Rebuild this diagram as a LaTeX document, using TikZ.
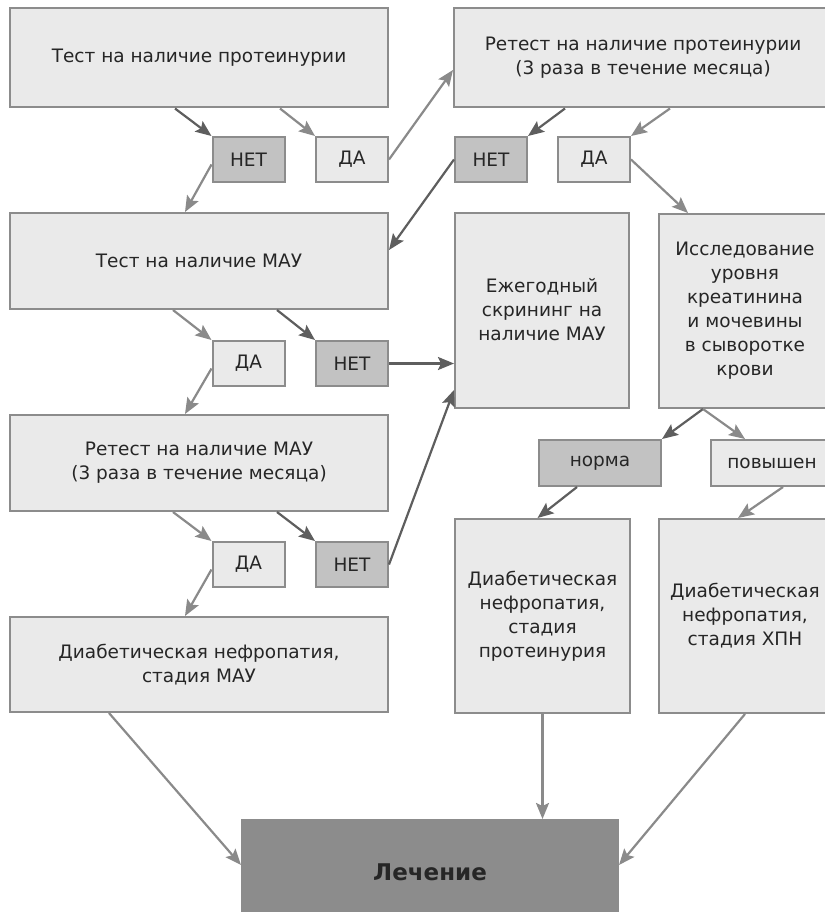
\documentclass[tikz,border=0pt]{standalone}
\usepackage{fontspec}
\setmainfont{DejaVu Sans}
\usetikzlibrary{arrows.meta}
\definecolor{boxfill}{HTML}{EAEAEA}
\definecolor{boxline}{HTML}{8C8C8C}
\definecolor{darkfill}{HTML}{C2C2C2}
\definecolor{treatfill}{HTML}{8C8C8C}
\definecolor{arrowgray}{HTML}{8A8A8A}
\definecolor{arrowdark}{HTML}{5E5E5E}
\definecolor{textgray}{HTML}{262626}
\tikzset{
  box/.style={draw=boxline, fill=boxfill, line width=2pt, text=textgray,
    align=center, font=\fontsize{18.5}{24}\selectfont, inner sep=2pt},
  yesbox/.style={box, minimum width=72pt, minimum height=45pt},
  nobox/.style={yesbox, fill=darkfill},
  arrow/.style={draw=arrowgray, line width=2.2pt, -{Stealth[length=16pt,width=13pt,inset=3pt]}},
  darrow/.style={arrow, draw=arrowdark}
}

\begin{document}
\begin{tikzpicture}[x=1pt,y=-1pt]
    \useasboundingbox (0,0) rectangle (824,912);

    % Protein tests
    \node[box, minimum width=378pt, minimum height=99pt] (testprot) at (199,58) {Тест на наличие протеинурии};
    \node[box, minimum width=378pt, minimum height=99pt] (retestprot) at (643,58) {Ретест на наличие протеинурии\\(3 раза в течение месяца)};
    \node[nobox] (net1) at (248.5,159.5) {НЕТ};
    \node[yesbox] (da1) at (352,159.5) {ДА};
    \node[nobox] (net2) at (491,159.5) {НЕТ};
    \node[yesbox] (da2) at (594,159.5) {ДА};

    % MAU tests
    \node[box, minimum width=378pt, minimum height=96pt] (testmau) at (199,261) {Тест на наличие МАУ};
    \node[yesbox] (da3) at (248.5,363.5) {ДА};
    \node[nobox] (net3) at (352,363.5) {НЕТ};
    \node[box, minimum width=378pt, minimum height=96pt] (retestmau) at (199,463) {Ретест на наличие МАУ\\(3 раза в течение месяца)};
    \node[yesbox] (da4) at (248.5,564.5) {ДА};
    \node[nobox] (net4) at (352,564.5) {НЕТ};
    \node[box, minimum width=378pt, minimum height=95pt] (stagemau) at (199,664.5) {Диабетическая нефропатия,\\стадия МАУ};

    % Right column
    \node[box, minimum width=174pt, minimum height=195pt] (screening) at (542,310) {Ежегодный\\скрининг на\\наличие МАУ};
    \node[box, minimum width=172pt, minimum height=194pt] (creat) at (745,311) {Исследование\\уровня\\креатинина\\и мочевины\\в сыворотке\\крови};
    \node[nobox, minimum width=122pt, minimum height=46pt] (norma) at (600,463) {норма};
    \node[yesbox, minimum width=122pt, minimum height=46pt] (povysh) at (772,463) {повышен};
    \node[box, minimum width=175pt, minimum height=194pt] (stageprot) at (542.5,616) {Диабетическая\\нефропатия,\\стадия\\протеинурия};
    \node[box, minimum width=172pt, minimum height=194pt] (stagechpn) at (745,616) {Диабетическая\\нефропатия,\\стадия ХПН};

    % Treatment
    \node[box, fill=treatfill, minimum width=376pt, minimum height=104pt,
      font=\fontsize{23}{28}\selectfont\bfseries, text=black!85] (treat) at (430,872) {Лечение};

    % Arrows, protein
    \draw[darrow] ([xshift=-24pt]testprot.south) -- (net1.north west);
    \draw[arrow] ([xshift=81pt]testprot.south) -- (da1.north west);
    \draw[arrow] ([yshift=-5pt]net1.west) -- ([xshift=-14pt]testmau.north);
    \draw[arrow] (da1.east) -- ([yshift=-12pt]retestprot.west);
    \draw[darrow] ([xshift=-78pt]retestprot.south) -- (net2.north east);
    \draw[arrow] ([xshift=27pt]retestprot.south) -- (da2.north east);
    \draw[darrow] (net2.west) -- ([yshift=11pt]testmau.east);
    \draw[arrow] (da2.east) -- ([xshift=-57pt]creat.north);

    % Arrows, MAU
    \draw[arrow] ([xshift=-26pt]testmau.south) -- (da3.north west);
    \draw[darrow] ([xshift=78pt]testmau.south) -- (net3.north west);
    \draw[darrow] (net3.east) -- (net3.east -| screening.west);
    \draw[arrow] ([yshift=-5pt]da3.west) -- ([xshift=-14pt]retestmau.north);
    \draw[arrow] ([xshift=-26pt]retestmau.south) -- (da4.north west);
    \draw[darrow] ([xshift=78pt]retestmau.south) -- (net4.north west);
    \draw[darrow] (net4.east) -- ([yshift=-80pt]screening.west);
    \draw[arrow] ([yshift=-5pt]da4.west) -- ([xshift=-14pt]stagemau.north);

    % Arrows, creatinine
    \draw[darrow] ([xshift=-42pt]creat.south) -- (norma.north east);
    \draw[arrow] ([xshift=-42pt]creat.south) -- ([xshift=-27pt]povysh.north);
    \draw[darrow] ([xshift=-23pt]norma.south) -- ([xshift=-5pt]stageprot.north);
    \draw[arrow] ([xshift=11pt]povysh.south) -- ([xshift=-7pt]stagechpn.north);

    % Arrows to treatment
    \draw[arrow] ([xshift=-90pt]stagemau.south) -- ([yshift=7pt]treat.west);
    \draw[arrow] (stageprot.south) -- (stageprot.south |- treat.north);
    \draw[arrow] (stagechpn.south) -- ([yshift=7pt]treat.east);
\end{tikzpicture}
\end{document}
